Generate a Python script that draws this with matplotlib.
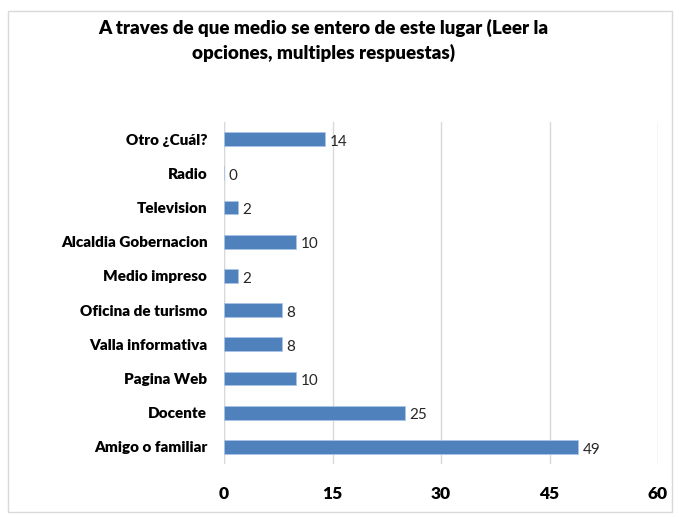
import matplotlib.pyplot as plt
from matplotlib.patches import Rectangle

plt.rcParams['font.family'] = ['Lato', 'DejaVu Sans']

categorias = ['Amigo o familiar', 'Docente', 'Pagina Web', 'Valla informativa',
              'Oficina de turismo', 'Medio impreso', 'Alcaldia Gobernacion',
              'Television', 'Radio', 'Otro ¿Cuál?']
valores = [49, 25, 10, 8, 8, 2, 10, 2, 0, 14]
ticks_x = [0, 15, 30, 45, 60]

fig = plt.figure(figsize=(6.79, 5.17), dpi=100)
ax = fig.add_axes([224 / 679, 1 - 464 / 517, 434 / 679, 342 / 517])

# borde del grafico
fig.patches.append(Rectangle((8 / 679, 1 - 512 / 517), 664 / 679, 501 / 517,
                             transform=fig.transFigure, fill=False,
                             edgecolor='#d9d9d9', linewidth=1))

pos = range(len(categorias))
ax.barh(pos, valores, height=0.4, color='#4f81bd', edgecolor='#a9c4e6',
        linewidth=0.6, zorder=3)
for i, v in enumerate(valores):
    ax.annotate(str(v), (v, i), xytext=(3, -2), textcoords='offset points',
                va='center', ha='left', fontsize=11, color='#262626')

ax.set_xlim(0, 60)
ax.set_ylim(-0.5, len(categorias) - 0.5)
ax.set_xticks(ticks_x)
ax.set_xticklabels([str(t) for t in ticks_x], fontsize=12.5, fontweight='heavy')
ax.set_yticks(list(pos))
ax.set_yticklabels(categorias, fontsize=11, fontweight='heavy')
ax.tick_params(axis='both', length=0)
ax.tick_params(axis='x', pad=16)
ax.tick_params(axis='y', pad=12)
ax.grid(axis='x', color='#d9d9d9', linewidth=1, zorder=0)
for s in ax.spines.values():
    s.set_visible(False)
ax.axvline(0, color='#d9d9d9', linewidth=1, zorder=1)

fig.text(323 / 679, 1 - 40 / 517,
         'A traves de que medio se entero de este lugar (Leer la\nopciones, multiples respuestas)',
         ha='center', va='center', fontsize=13.5, fontweight='heavy',
         linespacing=1.45)

fig.savefig('out.png', dpi=100)
